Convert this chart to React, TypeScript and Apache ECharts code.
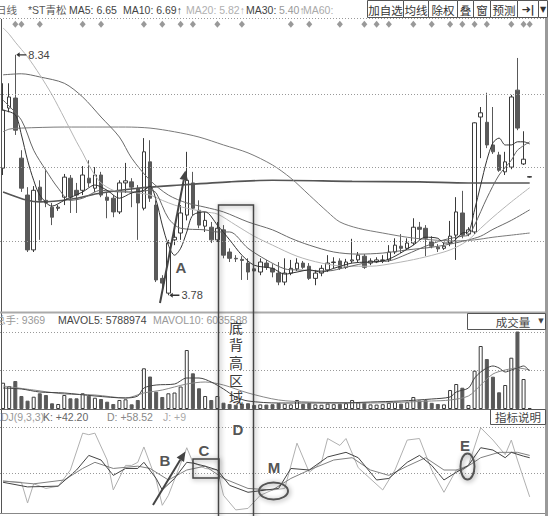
import React, { useEffect, useRef } from "react";
import * as echarts from "echarts";

// ---------- data ----------
const CATEGORIES: string[] = Array.from({ length: 89 }, (_, i) => `D${i + 1}`);

// [open, close, lowest, highest]
const CANDLES: number[][] = [
  [6.19, 7.29, 6.06, 7.8], [7.33, 7.54, 7.25, 7.8], [7.52, 6.91, 6.82, 8.34], [6.38, 5.81, 5.74, 6.53],
  [5.68, 4.64, 4.6, 5.83], [4.64, 5.77, 4.6, 5.85], [5.83, 5.58, 4.83, 5.96], [5.58, 5.53, 5.45, 6.15],
  [5.45, 5.26, 5.11, 5.53], [5.43, 5.45, 5.38, 5.49], [5.64, 6.02, 5.49, 6.08], [6.0, 5.64, 5.34, 6.06],
  [5.77, 5.68, 5.34, 5.91], [5.77, 6.06, 5.68, 6.23], [6.0, 5.91, 5.83, 6.34], [5.81, 6.06, 5.74, 6.21],
  [6.06, 5.68, 5.64, 6.12], [5.64, 5.58, 5.24, 5.72], [5.62, 5.36, 5.26, 5.68], [5.36, 5.91, 5.32, 5.96],
  [5.91, 5.95, 5.72, 6.29], [5.93, 5.83, 5.45, 6.0], [5.81, 5.53, 4.83, 5.87], [5.43, 6.5, 5.39, 6.76],
  [6.31, 5.62, 5.55, 6.72], [5.49, 4.07, 4.03, 5.58], [4.1, 4.01, 3.88, 4.16], [3.82, 4.77, 3.78, 4.83],
  [4.83, 4.88, 4.73, 5.02], [4.96, 5.34, 4.83, 5.49], [5.3, 5.96, 5.2, 6.5], [5.91, 5.43, 5.3, 6.12],
  [5.39, 5.11, 5.05, 5.58], [5.09, 5.2, 4.98, 5.36], [5.07, 4.83, 4.77, 5.17], [4.83, 5.05, 4.79, 5.17],
  [5.02, 4.54, 4.48, 5.11], [4.6, 4.48, 4.41, 4.67], [4.48, 4.47, 4.41, 4.54], [4.46, 4.44, 4.07, 4.52],
  [4.39, 4.22, 4.07, 4.48], [4.28, 4.24, 4.16, 4.33], [4.22, 4.41, 4.16, 4.48], [4.39, 4.31, 4.26, 4.45],
  [4.29, 4.22, 4.12, 4.37], [4.2, 4.03, 3.97, 4.41], [4.03, 4.2, 3.97, 4.48], [4.2, 4.29, 4.16, 4.45],
  [4.28, 4.39, 4.24, 4.48], [4.39, 4.31, 4.28, 4.43], [4.33, 4.1, 4.07, 4.39], [4.1, 4.2, 3.97, 4.26],
  [4.2, 4.29, 4.14, 4.35], [4.26, 4.39, 4.22, 4.54], [4.4, 4.41, 4.29, 4.5], [4.43, 4.29, 4.26, 4.48],
  [4.31, 4.41, 4.28, 4.47], [4.43, 4.45, 4.39, 4.85], [4.45, 4.54, 4.41, 4.6], [4.52, 4.31, 4.28, 4.56],
  [4.39, 4.43, 4.35, 4.48], [4.41, 4.45, 4.39, 4.5], [4.44, 4.45, 4.39, 4.54], [4.45, 4.6, 4.41, 4.73],
  [4.6, 4.73, 4.56, 4.86], [4.71, 4.67, 4.58, 4.94], [4.67, 4.77, 4.64, 4.86], [4.77, 5.07, 4.73, 5.24],
  [5.07, 5.03, 4.83, 5.17], [5.05, 4.86, 4.52, 5.11], [4.79, 4.71, 4.67, 4.9], [4.69, 4.66, 4.6, 4.75],
  [4.67, 4.71, 4.64, 4.77], [4.77, 4.9, 4.71, 5.19], [4.92, 5.36, 4.45, 5.64], [5.34, 4.92, 4.86, 5.76],
  [4.94, 5.02, 4.9, 5.07], [4.98, 7.05, 4.94, 7.06], [7.16, 7.24, 6.38, 7.35], [7.06, 6.63, 6.57, 7.62],
  [6.63, 6.5, 6.46, 7.35], [6.44, 6.15, 6.12, 6.5], [6.12, 6.31, 6.06, 6.5], [6.21, 7.54, 6.17, 7.58],
  [7.67, 6.95, 6.91, 8.28], [6.27, 6.36, 6.25, 6.89], [6.02, 6.03, 6.01, 6.04],
];

// volume, 万股
const VOLUMES: number[] = [
  683, 597, 727, 338, 216, 319, 408, 364, 148, 130, 364, 278, 278, 408, 345, 293, 260, 190, 130, 234,
  252, 122, 234, 1057, 844, 449, 312, 408, 428, 584, 1532, 927, 538, 338, 234, 338, 164, 130, 110, 140,
  150, 105, 120, 115, 125, 150, 135, 120, 234, 130, 150, 120, 110, 140, 125, 135, 150, 234, 170, 160,
  120, 115, 125, 160, 180, 140, 175, 312, 220, 230, 160, 130, 120, 493, 649, 553, 104, 995, 1636, 1299,
  839, 434, 623, 1332, 2052, 779, 26,
];

// moving averages read at key days: [dayIndex, price]
const MA5 = [[0, 7.29], [2, 7.2], [3, 6.82], [4, 6.34], [5, 5.96], [6, 5.68], [8, 5.47], [10, 5.58], [13, 5.74], [15, 5.87], [17, 5.77], [19, 5.62], [21, 5.72], [23, 5.77], [24, 5.85], [25, 5.58], [26, 5.11], [27, 4.73], [28, 4.54], [29, 4.67], [30, 4.98], [31, 5.3], [33, 5.36], [35, 5.11], [37, 4.83], [39, 4.54], [41, 4.35], [44, 4.29], [46, 4.18], [48, 4.22], [50, 4.26], [52, 4.22], [54, 4.29], [57, 4.39], [62, 4.43], [64, 4.52], [67, 4.73], [69, 4.88], [71, 4.86], [72, 4.77], [73, 4.77], [75, 4.96], [76, 4.98], [77, 5.4], [78, 5.87], [79, 6.34], [80, 6.67], [81, 6.76], [82, 6.63], [83, 6.63], [84, 6.69], [85, 6.69], [86, 6.65]];
const MA10 = [[0, 7.48], [3, 7.1], [5, 6.53], [7, 6.15], [9, 5.81], [11, 5.58], [13, 5.62], [16, 5.77], [19, 5.74], [22, 5.74], [24, 5.77], [25, 5.72], [27, 5.24], [29, 5.05], [33, 5.02], [35, 4.98], [37, 4.98], [40, 4.67], [43, 4.45], [46, 4.28], [48, 4.26], [53, 4.24], [56, 4.31], [60, 4.41], [63, 4.43], [66, 4.56], [69, 4.71], [72, 4.83], [75, 4.9], [76, 4.92], [77, 5.11], [79, 5.62], [81, 6.06], [83, 6.34], [84, 6.53], [86, 6.69]];
const MA20 = [[0, 8.85], [1, 8.73], [2, 8.58], [4, 8.3], [6, 7.96], [8, 7.58], [10, 7.14], [12, 6.69], [13, 6.48], [14, 6.25], [15, 6.06], [16, 5.91], [18, 5.77], [20, 5.74], [22, 5.72], [24, 5.68], [26, 5.58], [28, 5.49], [30, 5.43], [33, 5.36], [35, 5.32], [38, 5.11], [41, 4.9], [44, 4.73], [48, 4.52], [52, 4.39], [56, 4.33], [60, 4.33], [64, 4.39], [68, 4.48], [72, 4.6], [74, 4.69], [76, 4.83], [78, 5.05], [80, 5.26], [83, 5.55], [86, 5.82]];
const MA30 = [[0, 7.96], [3, 7.98], [6, 7.92], [10, 7.8], [13, 7.54], [16, 7.16], [19, 6.78], [21, 6.38], [24, 5.96], [27, 5.68], [30, 5.53], [33, 5.45], [36, 5.36], [40, 5.17], [44, 5.02], [47, 4.86], [50, 4.73], [54, 4.6], [58, 4.56], [62, 4.58], [66, 4.64], [70, 4.69], [73, 4.75], [76, 4.83], [78, 4.9], [80, 5.03], [83, 5.2], [86, 5.4]];
const MA60 = [[0, 6.88], [1, 6.93], [3, 6.95], [10, 6.97], [20, 6.97], [24, 6.95], [28, 6.88], [32, 6.78], [36, 6.63], [40, 6.48], [44, 6.25], [47, 6.0], [50, 5.68], [53, 5.36], [55, 5.17], [58, 5.05], [62, 4.96], [66, 4.88], [70, 4.83], [74, 4.81], [77, 4.83], [80, 4.88], [83, 4.92], [86, 4.96]];
const MA_LONG = [[0, 5.74], [4, 5.58], [6, 5.55], [11, 5.6], [16, 5.72], [22, 5.81], [29, 5.87], [37, 5.93], [44, 5.96], [57, 5.94], [68, 5.93], [76, 5.91], [86, 5.91]];

const MAVOL5 = [[0, 545], [3, 519], [6, 441], [10, 416], [15, 338], [20, 286], [22, 338], [23, 545], [25, 623], [28, 649], [30, 805], [32, 805], [34, 701], [36, 519], [38, 312], [40, 208], [45, 156], [55, 156], [60, 182], [65, 208], [70, 260], [73, 312], [74, 441], [76, 545], [77, 805], [78, 961], [79, 1065], [80, 1117], [81, 1065], [82, 961], [83, 1013], [84, 1065], [85, 1117], [86, 987]];
const MAVOL10 = [[0, 597], [5, 493], [10, 390], [15, 364], [20, 286], [23, 416], [26, 493], [30, 649], [33, 701], [36, 623], [40, 416], [45, 234], [50, 182], [60, 156], [70, 208], [73, 234], [76, 338], [78, 623], [80, 909], [82, 1013], [84, 1065], [86, 1013]];

const KDJ_K = [[0, 8], [4, 2], [9, 3], [12, 24], [14, 43], [16, 37], [18, 17], [20, 26], [22, 26], [23, 34], [25, 13], [26, -2], [28, 13], [30, 34], [31, 33], [33, 29], [35, 24], [37, 4], [40, -5], [43, -2], [45, 0], [47, 26], [50, 24], [53, 41], [56, 47], [58, 40], [61, 11], [63, 13], [66, 34], [68, 43], [70, 30], [72, 11], [74, 21], [76, 30], [78, 53], [80, 50], [82, 40], [83, 47], [85, 42], [86, 40]];
const KDJ_D = [[0, 9.6], [5, 6], [10, 11], [13, 26], [15, 34], [18, 26], [22, 29], [24, 26], [27, 11], [30, 24], [33, 29], [36, 13], [40, 0], [44, -2], [47, 13], [50, 24], [54, 37], [57, 40], [60, 24], [63, 17], [66, 29], [69, 40], [72, 24], [75, 24], [78, 40], [81, 47], [84, 47], [86, 43]];
const KDJ_J = [[0, 9.6], [3, 8], [4, -19], [5, 6], [7, 0], [9, 3], [11, 24], [13, 72], [14, 70], [15, 72], [17, 37], [18, -2], [20, 30], [21, 30], [22, 34], [23, 54], [25, 11], [26, -22], [27, -9], [30, 53], [31, 34], [33, 26], [35, 24], [36, -9], [38, -28], [40, -26], [42, -9], [44, -2], [46, 0], [48, 59], [50, 21], [52, 34], [53, 65], [55, 56], [56, 65], [58, 27], [62, -2], [64, 24], [66, 63], [68, 65], [70, 24], [72, -5], [74, 24], [76, 30], [78, 79], [80, 63], [82, 44], [83, 63], [84, 37], [86, -11]];

const DIAMOND_DAYS = [2, 3, 6, 13, 16, 23, 26, 29, 31, 35, 39, 47, 50, 55, 59, 61, 63, 67, 70, 73, 75, 77, 79, 83, 85, 86];
const DIAMOND_LEVEL = 8.92;
const PRICE_GRID = [7.6, 6.2, 4.8];
const KDJ_GRID = [80, 20];

const HEADER_ITEMS = [
  { text: "日线", x: -4, color: "#666" },
  { text: "*ST青松", x: 28, color: "#555" },
  { text: "MA5: 6.65", x: 69, color: "#444" },
  { text: "MA10: 6.69↑", x: 123, color: "#444" },
  { text: "MA20: 5.82↑", x: 186, color: "#b0b0b0" },
  { text: "MA30:", x: 246, color: "#444" },
  { text: "5.40↑", x: 279, color: "#999" },
  { text: "MA60:", x: 303, color: "#aaa" },
];
const VOL_HEADER = [
  { text: "总手: 9369", x: -5, color: "#999" },
  { text: "MAVOL5: 5788974", x: 58, color: "#444" },
  { text: "MAVOL10: 6035588", x: 153, color: "#999" },
];
const KDJ_HEADER = [
  { text: "KDJ(9,3,3)", x: -6, color: "#999" },
  { text: "K: +42.20", x: 43, color: "#666" },
  { text: "D: +58.52", x: 107, color: "#888" },
  { text: "J: +9", x: 163, color: "#aaa" },
];
const BUTTONS = [
  { label: "加自选", x: 367, w: 36 },
  { label: "均线", x: 403, w: 25 },
  { label: "除权", x: 428, w: 29 },
  { label: "叠", x: 457, w: 16 },
  { label: "窗", x: 473, w: 17 },
  { label: "预测", x: 490, w: 27 },
  { label: "➜|", x: 517, w: 21 },
  { label: "▼", x: 538, w: 9 },
];
const ZONE_TEXT = ["底", "背", "高", "区", "域"];

const FONT = '"Liberation Sans", "Noto Sans CJK SC", sans-serif';

function txt(text: string, x: number, y: number, fill: string, font: string, align = "left") {
  return {
    type: "text", x, y, z: 60,
    style: { text, fill, font, textAlign: align, textVerticalAlign: "middle" },
  };
}

function buildGraphics() {
  const els: any[] = [];
  const shadow = { shadowBlur: 5, shadowColor: "rgba(0,0,0,0.45)", shadowOffsetX: 1, shadowOffsetY: 1 };
  // frame
  els.push({ type: "line", z: 40, shape: { x1: 0, y1: 18.5, x2: 545, y2: 18.5 }, style: { stroke: "#999", lineWidth: 1, lineDash: [1, 2] } });
  els.push({ type: "line", z: 40, shape: { x1: 1.5, y1: 19, x2: 1.5, y2: 513 }, style: { stroke: "#555", lineWidth: 1 } });
  els.push({ type: "rect", z: 40, shape: { x: 545, y: 18, width: 3, height: 498 }, style: { fill: "#9a9a9a" } });
  els.push({ type: "line", z: 40, shape: { x1: 0, y1: 312.5, x2: 545, y2: 312.5 }, style: { stroke: "#aaa", lineWidth: 2 } });
  els.push({ type: "line", z: 40, shape: { x1: 0, y1: 409.5, x2: 545, y2: 409.5 }, style: { stroke: "#666", lineWidth: 1 } });
  els.push({ type: "line", z: 40, shape: { x1: 0, y1: 513.5, x2: 545, y2: 513.5 }, style: { stroke: "#888", lineWidth: 1 } });

  // headers
  HEADER_ITEMS.forEach((h) => els.push(txt(h.text, h.x, 9.5, h.color, `10.5px ${FONT}`)));
  VOL_HEADER.forEach((h) => els.push(txt(h.text, h.x, 320, h.color, `10.5px ${FONT}`)));
  KDJ_HEADER.forEach((h) => els.push(txt(h.text, h.x, 417, h.color, `10.5px ${FONT}`)));

  // buttons
  BUTTONS.forEach((b) => {
    els.push({ type: "rect", z: 55, shape: { x: b.x + 0.5, y: 0.5, width: b.w, height: 17 }, style: { fill: "#fff", stroke: "#555", lineWidth: 1 } });
    const isIcon = b.label === "➜|" || b.label === "▼";
    els.push(txt(b.label, b.x + b.w / 2 + 0.5, 9.5, "#333",
      b.label === "▼" ? `8px "DejaVu Sans"` : isIcon ? `bold 11px "DejaVu Sans"` : `11.5px "Noto Sans CJK SC"`, "center"));
  });

  // 成交量 box
  els.push({ type: "rect", z: 55, shape: { x: 467.5, y: 313.5, width: 78, height: 16 }, style: { fill: "#fff", stroke: "#555", lineWidth: 1 } });
  els.push(txt("成交量", 513, 321.5, "#444", `11.5px "Noto Sans CJK SC"`, "center"));
  els.push(txt("▼", 541, 321, "#444", `7px "DejaVu Sans"`, "center"));
  // 指标说明 box
  els.push({ type: "rect", z: 55, shape: { x: 490.5, y: 409.5, width: 55, height: 15 }, style: { fill: "#fff", stroke: "#555", lineWidth: 1 } });
  els.push(txt("指标说明", 518, 417, "#444", `11.5px "Noto Sans CJK SC"`, "center"));

  // zone box
  els.push({ type: "rect", z: 70, shape: { x: 218.5, y: 205, width: 35, height: 320 }, style: { fill: "none", stroke: "#444", lineWidth: 1.5, ...shadow } });
  els.push({
    type: "text", x: 236, y: 318, z: 60,
    style: {
      text: ZONE_TEXT.join("\n"), fill: "#3a3a3a", font: `14px "Noto Sans CJK SC"`,
      lineHeight: 17.6, textAlign: "center", textVerticalAlign: "top",
    },
  });

  // arrow A
  els.push({ type: "line", z: 70, shape: { x1: 160, y1: 303, x2: 183.8, y2: 179.8 }, style: { stroke: "#444", lineWidth: 2 } });
  els.push({ type: "polygon", z: 70, shape: { points: [[185.5, 170.5], [188, 180.8], [179.6, 179]] }, style: { fill: "#444" } });
  // arrow B
  els.push({ type: "line", z: 70, shape: { x1: 153, y1: 505, x2: 180.3, y2: 459.7 }, style: { stroke: "#444", lineWidth: 2 } });
  els.push({ type: "polygon", z: 70, shape: { points: [[185.5, 451.5], [184, 462], [176.6, 457.5]] }, style: { fill: "#444" } });
  // box C
  els.push({ type: "rect", z: 70, shape: { x: 193, y: 459, width: 26, height: 19 }, style: { fill: "none", stroke: "#444", lineWidth: 1.5, ...shadow } });
  // ellipses
  els.push({ type: "ellipse", z: 70, shape: { cx: 273.5, cy: 491, rx: 14.5, ry: 8.5 }, style: { fill: "none", stroke: "#555", lineWidth: 2, ...shadow } });
  els.push({ type: "ellipse", z: 70, shape: { cx: 467.5, cy: 466.5, rx: 7, ry: 13 }, style: { fill: "none", stroke: "#555", lineWidth: 2, ...shadow } });

  const letter = `bold 15px ${FONT}`;
  els.push(txt("A", 181, 267, "#555", letter, "center"));
  els.push(txt("B", 165, 460, "#555", letter, "center"));
  els.push(txt("C", 204, 450, "#555", letter, "center"));
  els.push(txt("D", 238, 429, "#555", letter, "center"));
  els.push(txt("E", 465, 445, "#555", letter, "center"));
  els.push(txt("M", 274, 467, "#555", letter, "center"));
  return els;
}

export default function App() {
  const ref = useRef<HTMLDivElement>(null);
  useEffect(() => {
    document.body.style.margin = "0";
    if (!ref.current) return;
    const chart = echarts.init(ref.current, undefined, { renderer: "svg" });

    const volData = VOLUMES.map((v, i) => {
      const c = CANDLES[i];
      const up = c[1] >= c[0];
      return {
        value: v,
        itemStyle: up
          ? { color: "#fff", borderColor: "#3a3a3a", borderWidth: 1 }
          : { color: "#595959", borderColor: "#595959", borderWidth: 1 },
      };
    });

    const maLine = (name: string, data: number[][], color: string, width = 1) => ({
      name, type: "line", xAxisIndex: 0, yAxisIndex: 0, data, showSymbol: false, smooth: 0.3,
      lineStyle: { color, width }, silent: true, z: 3,
    });
    const subLine = (name: string, data: number[][], color: string, axis: number, smooth = 0) => ({
      name, type: "line", xAxisIndex: axis, yAxisIndex: axis, data, showSymbol: false, smooth,
      lineStyle: { color, width: 1 }, silent: true, z: 3,
    });
    const arrowPath = "path://M0,3L4,0.3L4,2.3L12,2.3L12,3.7L4,3.7L4,5.7Z";

    const option: any = {
      animation: false,
      backgroundColor: "#fff",
      grid: [
        { left: 0, right: 5, top: 20, height: 290 },
        { left: 0, right: 5, top: 332, height: 77 },
        { left: 0, right: 5, top: 427, height: 86 },
      ],
      xAxis: [0, 1, 2].map((g) => ({
        type: "category", gridIndex: g, data: CATEGORIES, boundaryGap: true, show: false,
      })),
      yAxis: [
        { gridIndex: 0, min: 3.5, max: 9, show: false },
        {
          gridIndex: 1, min: 0, max: 2000, interval: 1000,
          axisLine: { show: false }, axisTick: { show: false }, axisLabel: { show: false },
          splitLine: { show: true, lineStyle: { type: [1, 2], color: "#999", width: 1 } },
        },
        { gridIndex: 2, min: -32, max: 80, show: false },
      ],
      series: [
        {
          type: "candlestick", xAxisIndex: 0, yAxisIndex: 0, data: CANDLES, barWidth: 4,
          itemStyle: { color: "#fff", color0: "#595959", borderColor: "#3a3a3a", borderColor0: "#595959", borderWidth: 1 },
          markLine: {
            silent: true, symbol: "none", label: { show: false },
            lineStyle: { type: [1, 2], color: "#999", width: 1 },
            data: PRICE_GRID.map((v) => ({ yAxis: v })),
          },
          markPoint: {
            silent: true,
            symbol: arrowPath, symbolSize: [10, 5], symbolOffset: [6, 0],
            itemStyle: { color: "#333" },
            label: {
              show: true, position: "right", distance: 2, color: "#444", fontSize: 11, fontFamily: "Liberation Sans",
              formatter: (p: any) => Number(p.value).toFixed(2),
            },
            data: [
              { type: "max", valueDim: "highest" },
              { type: "min", valueDim: "lowest" },
            ],
          },
          z: 2,
        },
        maLine("MA120", MA_LONG, "#555", 1.6),
        maLine("MA60", MA60, "#7a7a7a"),
        maLine("MA30", MA30, "#6a6a6a"),
        maLine("MA20", MA20, "#b5b5b5"),
        maLine("MA10", MA10, "#666"),
        maLine("MA5", MA5, "#333"),
        {
          type: "scatter", xAxisIndex: 0, yAxisIndex: 0, symbol: "diamond", symbolSize: [6, 7],
          itemStyle: { color: "#808080" }, silent: true,
          data: DIAMOND_DAYS.map((d) => [d, DIAMOND_LEVEL]),
        },
        { type: "bar", xAxisIndex: 1, yAxisIndex: 1, data: volData, barWidth: 4, silent: true },
        subLine("MAVOL10", MAVOL10, "#888", 1, 0.3),
        subLine("MAVOL5", MAVOL5, "#444", 1, 0.3),
        {
          type: "line", xAxisIndex: 2, yAxisIndex: 2, data: [], silent: true,
          markLine: {
            silent: true, symbol: "none", label: { show: false },
            lineStyle: { type: [1, 2], color: "#999", width: 1 },
            data: KDJ_GRID.map((v) => ({ yAxis: v })),
          },
        },
        subLine("J", KDJ_J, "#b0b0b0", 2),
        subLine("D", KDJ_D, "#808080", 2),
        subLine("K", KDJ_K, "#444", 2),
      ],
      graphic: { elements: buildGraphics() },
    };
    chart.setOption(option);
    return () => chart.dispose();
  }, []);
  return <div ref={ref} style={{ width: 550, height: 516 }} />;
}
